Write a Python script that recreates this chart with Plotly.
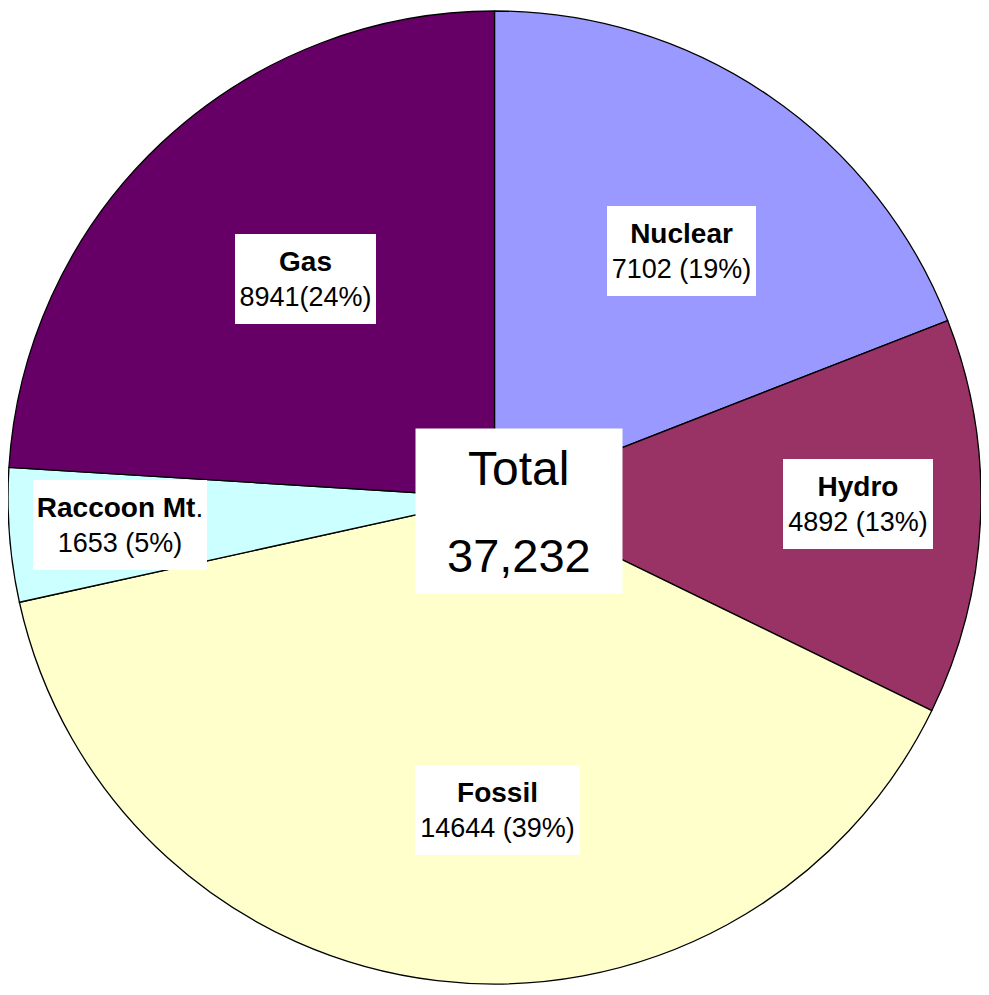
import plotly.graph_objects as go

# Data
labels = ["Nuclear", "Hydro", "Fossil", "Raccoon Mt.", "Gas"]
values = [7102, 4892, 14644, 1653, 8941]
percent_text = ["7102 (19%)", "4892 (13%)", "14644 (39%)", "1653 (5%)", "8941(24%)"]
colors = ["#9999FF", "#993366", "#FFFFCC", "#CCFFFF", "#660066"]
total_label = "Total"
total_value = "37,232"

W, H = 989, 995
FONT = "Liberation Sans, Arial, sans-serif"

fig = go.Figure(go.Pie(
    labels=labels,
    values=values,
    sort=False,
    direction="clockwise",
    rotation=0,
    marker=dict(colors=colors, line=dict(color="black", width=1.3)),
    textinfo="none",
    hoverinfo="skip",
    showlegend=False,
    domain=dict(x=[0, 1], y=[0, 1]),
))

# label box centers (pixels) and sizes
box_pos = {
    "Nuclear": (685, 247, 149, 90),
    "Hydro": (864, 504, 150, 90),
    "Fossil": (498, 815, 165, 90),
    "Raccoon Mt.": (114, 525, 174, 90),
    "Gas": (302, 275, 141, 90),
}

annotations = []
for lab, txt in zip(labels, percent_text):
    cx, cy, bw, bh = box_pos[lab]
    if lab == "Raccoon Mt.":
        name = "<span style='font-size:28px'><b>Raccoon Mt</b>.</span>"
    else:
        name = f"<span style='font-size:28px'><b>{lab}</b></span>"
    annotations.append(dict(
        x=cx / W, y=1 - cy / H, xref="paper", yref="paper",
        xanchor="center", yanchor="middle",
        text=f"{name}<br>{txt}", showarrow=False,
        font=dict(family=FONT, size=27, color="black"),
        bgcolor="white", borderpad=0, borderwidth=0,
        width=bw, height=bh, align="center",
    ))

# Total box
annotations.append(dict(
    x=519 / W, y=1 - 511 / H, xref="paper", yref="paper",
    xanchor="center", yanchor="middle", text=" ", showarrow=False,
    bgcolor="white", borderpad=0, width=206, height=164,
    font=dict(family=FONT, size=10),
))
annotations.append(dict(
    x=519 / W, y=1 - 468 / H, xref="paper", yref="paper",
    xanchor="center", yanchor="middle", text=total_label, showarrow=False,
    font=dict(family=FONT, size=48, color="black"),
))
annotations.append(dict(
    x=519 / W, y=1 - 556 / H, xref="paper", yref="paper",
    xanchor="center", yanchor="middle", text=total_value, showarrow=False,
    font=dict(family=FONT, size=47, color="black"),
))

fig.update_layout(
    margin=dict(l=0, r=0, t=0, b=0),
    paper_bgcolor="white",
    plot_bgcolor="white",
    annotations=annotations,
)

fig.write_html("out.html")
